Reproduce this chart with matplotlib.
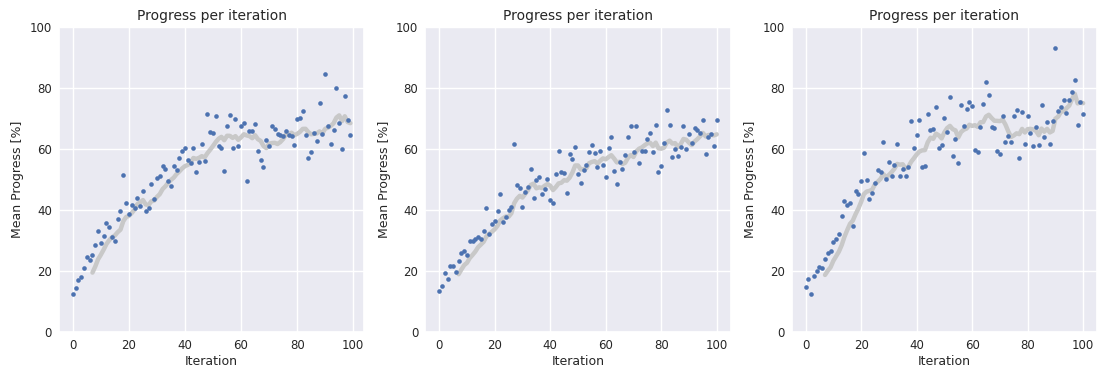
import numpy as np
import pandas as pd
import matplotlib
matplotlib.use("Agg")
import matplotlib.pyplot as plt
import seaborn as sns

# mean progress per iteration for the three runs
run_a = [12.4, 14.3, 17.0, 18.1, 20.9, 24.5, 23.6, 25.2, 28.4, 33.1,
         29.1, 31.5, 35.7, 34.4, 31.3, 29.9, 37.0, 39.7, 51.4, 42.3,
         38.7, 41.7, 40.6, 44.1, 41.2, 46.2, 39.8, 40.8, 48.4, 43.6,
         50.4, 51.3, 54.3, 53.5, 49.5, 47.9, 54.5, 53.0, 57.1, 59.3,
         60.4, 56.5, 55.3, 60.3, 52.3, 55.6, 61.5, 56.0, 71.5, 65.7,
         65.1, 70.7, 60.9, 60.4, 52.7, 67.7, 71.3, 60.3, 69.7, 61.1,
         67.4, 68.5, 49.6, 65.9, 65.9, 68.1, 59.3, 56.5, 54.2, 62.8,
         61.1, 67.7, 66.6, 64.8, 64.5, 64.4, 65.8, 64.7, 64.1, 61.4,
         69.8, 70.1, 72.4, 64.7, 57.0, 59.1, 65.2, 62.5, 75.2, 64.8,
         84.5, 67.7, 61.5, 66.1, 80.0, 68.4, 60.1, 77.5, 69.4, 64.7]

run_b = [13.5, 15.2, 19.3, 17.5, 21.5, 21.6, 19.7, 23.4, 26.0, 26.5,
         25.4, 29.9, 29.7, 30.5, 31.1, 30.4, 33.2, 40.7, 32.0, 35.4,
         36.3, 39.6, 45.4, 36.1, 37.6, 40.1, 40.9, 61.8, 48.2, 47.1,
         41.0, 45.9, 47.4, 53.6, 44.1, 49.7, 50.8, 45.3, 46.9, 50.2,
         43.2, 42.2, 51.9, 59.2, 52.6, 52.1, 45.6, 58.3, 56.6, 60.5,
         51.9, 48.8, 53.2, 54.6, 59.0, 61.4, 58.8, 54.1, 59.4, 54.9,
         50.8, 60.4, 63.9, 52.7, 48.6, 55.8, 53.5, 58.1, 63.8, 67.7,
         58.9, 67.4, 55.5, 59.2, 59.2, 63.3, 65.1, 59.0, 68.0, 52.5,
         54.4, 62.1, 72.7, 68.0, 57.5, 60.1, 57.6, 60.6, 67.7, 60.1,
         64.8, 62.0, 66.8, 66.2, 65.2, 69.4, 58.4, 63.9, 65.0, 60.9,
         69.5]

run_c = [14.8, 17.5, 12.6, 18.4, 20.0, 21.3, 21.1, 24.1, 25.9, 26.6,
         29.5, 30.5, 32.0, 38.2, 43.0, 41.7, 42.4, 34.8, 46.4, 45.1,
         49.6, 58.6, 49.8, 43.5, 45.7, 49.0, 53.0, 52.5, 62.3, 50.1,
         55.8, 51.0, 54.6, 61.6, 51.0, 53.6, 51.0, 54.2, 69.2, 60.4,
         64.5, 69.4, 54.1, 54.3, 71.4, 66.3, 66.4, 73.8, 60.2, 61.2,
         70.1, 65.5, 77.1, 57.7, 63.2, 55.3, 74.3, 67.4, 73.0, 75.5,
         74.1, 59.6, 59.0, 67.2, 74.9, 81.8, 77.6, 67.1, 66.9, 59.3,
         58.3, 70.9, 62.2, 64.4, 62.4, 70.9, 72.7, 57.1, 72.1, 61.5,
         70.9, 65.2, 60.9, 67.2, 61.2, 74.5, 63.9, 69.0, 61.5, 69.2,
         93.1, 72.6, 73.7, 76.1, 71.7, 75.9, 78.8, 82.7, 68.0, 75.4,
         71.5]

runs = [run_a, run_b, run_c]
window = 8

sns.set_theme(style="darkgrid")
plt.rcParams['font.family'] = ['DejaVu Sans']

fig, axes = plt.subplots(1, 3, figsize=(11, 3.69), dpi=100)
fig.subplots_adjust(left=0.0536, right=0.9973, bottom=0.1, top=0.927, wspace=0.2)

for ax, run in zip(axes, runs):
    progress = pd.Series(run)
    it = np.arange(len(progress))
    smooth = progress.rolling(window).mean()
    ax.plot(it, smooth, color="#c8c8c8", lw=3.2, zorder=2)
    ax.scatter(it, progress, s=11, color="#4c72b0", zorder=3, linewidths=0)
    ax.set_ylim(0, 100)
    ax.set_title("Progress per iteration", fontsize=10, pad=5)
    ax.set_xlabel("Iteration", fontsize=9, labelpad=2)
    ax.set_ylabel("Mean Progress [%]", fontsize=9, labelpad=4)
    ax.tick_params(labelsize=8.5, length=0, pad=5)

fig.savefig("out.png")
